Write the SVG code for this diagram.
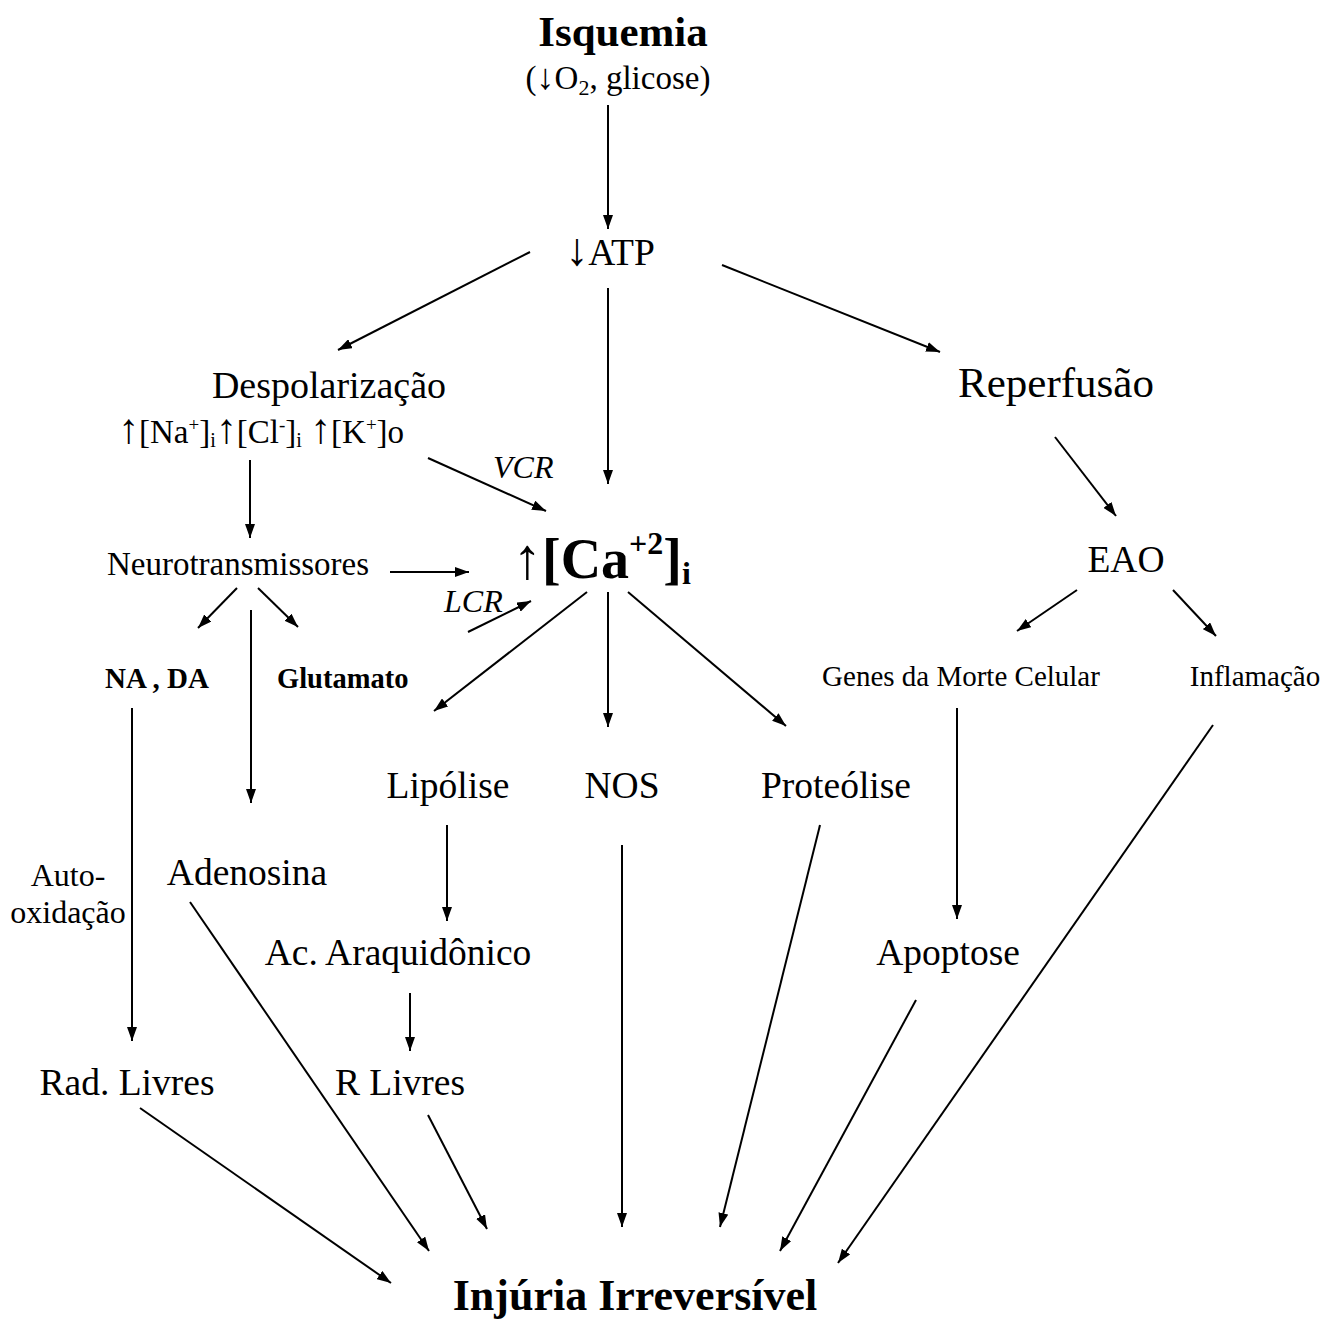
<svg xmlns="http://www.w3.org/2000/svg" width="1325" height="1323" viewBox="0 0 1325 1323">
<defs>
<marker id="ah" viewBox="0 0 14 10" refX="14" refY="5" markerWidth="14" markerHeight="10" markerUnits="userSpaceOnUse" orient="auto">
<path d="M0,0 L14,5 L0,10 Z" fill="#000"/>
</marker>
<style>
text{font-family:"Liberation Serif","Times New Roman",serif;fill:#000}
.m{font-size:37.5px;text-anchor:middle}
.b{font-weight:bold}
.i{font-style:italic;font-size:32px}
.s{font-size:29px;text-anchor:middle}
.c line{stroke:#000;stroke-width:2;marker-end:url(#ah)}
</style>
</defs>
<rect width="1325" height="1323" fill="#fff"/>
<g id="isquemia">
<text x="623" y="46" class="b" style="font-size:43px;text-anchor:middle">Isquemia</text>
<text x="618" y="89" style="font-size:33px;text-anchor:middle">(<tspan font-size="36">↓</tspan>O<tspan font-size="22" dy="6">2</tspan><tspan dy="-6">, glicose)</tspan></text>
</g>
<g id="atp"><text x="610" y="265" class="m"><tspan font-size="46">↓</tspan>ATP</text></g>
<g id="despolarizacao">
<text x="329" y="398" style="font-size:38px;text-anchor:middle">Despolarização</text>
<text x="118" y="443" style="font-size:33px"><tspan font-size="42">↑</tspan>[Na<tspan font-size="19" dy="-12">+</tspan><tspan dy="12">]</tspan><tspan font-size="20" dy="4">i</tspan><tspan dy="-4" font-size="42">↑</tspan>[Cl<tspan font-size="19" dy="-12">-</tspan><tspan dy="12">]</tspan><tspan font-size="20" dy="4">i</tspan><tspan dy="-4"> </tspan><tspan font-size="42">↑</tspan>[K<tspan font-size="19" dy="-12">+</tspan><tspan dy="12">]o</tspan></text>
</g>
<g id="reperfusao"><text x="1056" y="397" style="font-size:43px;text-anchor:middle">Reperfusão</text></g>
<g id="vcr"><text x="493" y="478" class="i">VCR</text></g>
<g id="neurotransmissores"><text x="238" y="575" style="font-size:33px;text-anchor:middle">Neurotransmissores</text></g>
<g id="calcio"><text x="513" y="578" style="font-size:56px"><tspan style="font-size:58px">↑</tspan><tspan class="b">[Ca</tspan><tspan class="b" font-size="32" dy="-24">+2</tspan><tspan class="b" dy="24">]</tspan><tspan class="b" font-size="32" dy="6">i</tspan></text></g>
<g id="lcr"><text x="444" y="612" class="i">LCR</text></g>
<g id="eao"><text x="1126" y="572" class="m">EAO</text></g>
<g id="nada"><text x="105" y="688" class="b" style="font-size:29px">NA , DA</text></g>
<g id="glutamato"><text x="277" y="688" class="b" style="font-size:28.5px">Glutamato</text></g>
<g id="genes"><text x="961" y="686" class="s">Genes da Morte Celular</text></g>
<g id="inflamacao"><text x="1255" y="686" class="s">Inflamação</text></g>
<g id="lipolise"><text x="448" y="798" class="m">Lipólise</text></g>
<g id="nos"><text x="622" y="798" class="m">NOS</text></g>
<g id="proteolise"><text x="836" y="798" class="m">Proteólise</text></g>
<g id="autooxidacao">
<text x="68" y="886" style="font-size:32px;text-anchor:middle">Auto-</text>
<text x="68" y="923" style="font-size:32px;text-anchor:middle">oxidação</text>
</g>
<g id="adenosina"><text x="247" y="885" class="m">Adenosina</text></g>
<g id="araquidonico"><text x="398" y="965" class="m">Ac. Araquidônico</text></g>
<g id="apoptose"><text x="948" y="965" class="m">Apoptose</text></g>
<g id="radlivres"><text x="127" y="1095" class="m">Rad. Livres</text></g>
<g id="rlivres"><text x="400" y="1095" class="m">R Livres</text></g>
<g id="injuria"><text x="635" y="1310" class="b" style="font-size:44px;text-anchor:middle">Injúria Irreversível</text></g>
<g id="connectors" class="c">
<line x1="608" y1="105" x2="608" y2="229"/>
<line x1="530" y1="252" x2="338" y2="350"/>
<line x1="608" y1="288" x2="608" y2="484"/>
<line x1="722" y1="265" x2="940" y2="352"/>
<line x1="428" y1="458" x2="546" y2="511"/>
<line x1="250" y1="460" x2="250" y2="538"/>
<line x1="390" y1="572" x2="469" y2="572"/>
<line x1="468" y1="632" x2="531" y2="601"/>
<line x1="1055" y1="437" x2="1116" y2="516"/>
<line x1="1077" y1="590" x2="1017" y2="631"/>
<line x1="1173" y1="590" x2="1216" y2="636"/>
<line x1="237" y1="588" x2="198" y2="628"/>
<line x1="258" y1="588" x2="298" y2="627"/>
<line x1="251" y1="610" x2="251" y2="803"/>
<line x1="587" y1="592" x2="434" y2="711"/>
<line x1="608" y1="592" x2="608" y2="727"/>
<line x1="628" y1="592" x2="786" y2="726"/>
<line x1="132" y1="708" x2="132" y2="1041"/>
<line x1="447" y1="825" x2="447" y2="921"/>
<line x1="410" y1="993" x2="410" y2="1051"/>
<line x1="957" y1="708" x2="957" y2="919"/>
<line x1="140" y1="1108" x2="391" y2="1283"/>
<line x1="190" y1="902" x2="429" y2="1251"/>
<line x1="428" y1="1115" x2="487" y2="1229"/>
<line x1="622" y1="845" x2="622" y2="1227"/>
<line x1="820" y1="825" x2="720" y2="1227"/>
<line x1="916" y1="1000" x2="780" y2="1251"/>
<line x1="1213" y1="725" x2="838" y2="1263"/>
</g>
</svg>
